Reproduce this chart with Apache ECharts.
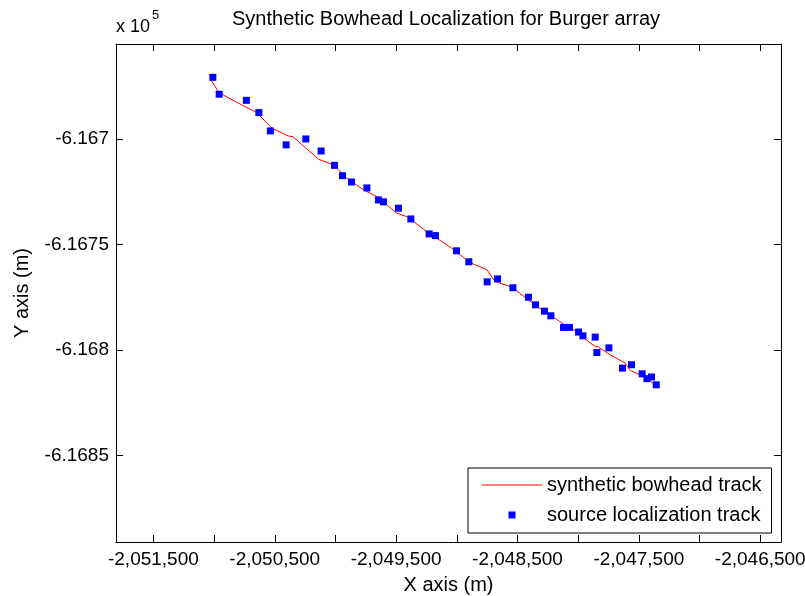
<!DOCTYPE html>
<html><head><meta charset="utf-8">
<script src="https://cdn.jsdelivr.net/npm/echarts@6/dist/echarts.min.js"></script>
<style>html,body{margin:0;padding:0;background:#fff}#c{width:805px;height:596px}</style>
</head><body><div id="c"></div>
<script>
// synthetic bowhead track (m)
const trackX = [-2051025,-2050959,-2050744,-2050648,-2050524,-2050387,-2050351,-2050140,-2050017,-2049906,-2049769,-2049632,-2049576,-2049494,-2049412,-2049247,-2049041,-2048890,-2048752,-2048684,-2048546,-2048340,-2048231,-2048093,-2048025,-2047901,-2047860,-2047833,-2047736,-2047613,-2047571,-2047462,-2047365];
const trackY = [-616672.1,-616678.1,-616684.7,-616687.5,-616694.9,-616698.6,-616698.9,-616709.6,-616712.3,-616718.6,-616724.1,-616728.1,-616731.3,-616735.2,-616736.8,-616743.9,-616751.8,-616758.6,-616762.0,-616767.6,-616770.2,-616779.4,-616783.3,-616788.9,-616790.8,-616796.7,-616798.3,-616798.6,-616802.3,-616806.2,-616809.7,-616812.5,-616816.5];
// source localization track (m)
const locX = [-2051010,-2050958,-2050734,-2050631,-2050536,-2050406,-2050244,-2050118,-2050008,-2049942,-2049868,-2049741,-2049646,-2049605,-2049481,-2049379,-2049228,-2049176,-2049003,-2048901,-2048750,-2048665,-2048538,-2048410,-2048352,-2048278,-2048225,-2048121,-2048072,-2047997,-2047961,-2047860,-2047846,-2047747,-2047635,-2047561,-2047473,-2047434,-2047396,-2047357];
const locY = [-616670.8,-616678.8,-616681.7,-616687.5,-616696.2,-616702.8,-616700.0,-616705.7,-616712.5,-616717.4,-616720.4,-616723.2,-616728.9,-616729.8,-616732.8,-616737.9,-616745.0,-616745.8,-616753.0,-616758.2,-616767.7,-616766.3,-616770.5,-616775.0,-616778.6,-616781.6,-616783.8,-616789.3,-616789.3,-616791.5,-616793.3,-616793.9,-616801.2,-616799.0,-616808.6,-616807.0,-616811.3,-616813.6,-616812.8,-616816.5];
// axes
const xTicks = [-2051500,-2051000,-2050500,-2050000,-2049500,-2049000,-2048500,-2048000,-2047500,-2047000,-2046500];
const xTickLabels = [-2051500,-2050500,-2049500,-2048500,-2047500,-2046500];
const yTicks = [-616850,-616800,-616750,-616700];
const xRange = [-2051808,-2046329];
const yRange = [-616891,-616655];
const titleText = 'Synthetic Bowhead Localization for Burger array';
const seriesNames = ['synthetic bowhead track','source localization track'];

const FONT = 'Liberation Sans, Arial, sans-serif';
function fmtX(v){
  const s = Math.abs(Math.round(v)).toString().replace(/\B(?=(\d{3})+(?!\d))/g, ',');
  return (v < 0 ? '-' : '') + s;
}
function fmtY(v){ return String(+(v/1e5).toFixed(5)); }

const chart = echarts.init(document.getElementById('c'), null, {renderer:'canvas'});
const axisCommonX = {
  type:'value', min:xRange[0], max:xRange[1],
  axisLine:{show:true, onZero:false, lineStyle:{color:'#000', width:1}},
  axisTick:{show:true, inside:true, length:7, customValues:xTicks, lineStyle:{color:'#000'}},
  splitLine:{show:false}
};
const axisCommonY = {
  type:'value', min:yRange[0], max:yRange[1],
  axisLine:{show:true, onZero:false, lineStyle:{color:'#000', width:1}},
  axisTick:{show:true, inside:true, length:7, customValues:yTicks, lineStyle:{color:'#000'}},
  splitLine:{show:false}
};
chart.setOption({
  animation:false,
  backgroundColor:'#fff',
  title:{text:titleText, left:446, top:9, textAlign:'center', padding:0,
    textStyle:{fontFamily:FONT, fontSize:20, fontWeight:'normal', color:'#000'}},
  grid:{left:116, right:24, top:44, bottom:54, containLabel:false, outerBoundsMode:'none'},
  xAxis:[
    Object.assign({}, axisCommonX, {position:'bottom',
      axisLabel:{customValues:xTickLabels, formatter:fmtX, color:'#000', fontSize:19, fontFamily:FONT, margin:8},
      name:'X axis (m)', nameLocation:'middle', nameGap:33,
      nameTextStyle:{color:'#000', fontSize:20, fontFamily:FONT}}),
    Object.assign({}, axisCommonX, {position:'top', axisLabel:{show:false}})
  ],
  yAxis:[
    Object.assign({}, axisCommonY, {position:'left',
      axisLabel:{customValues:yTicks, formatter:fmtY, color:'#000', fontSize:19, fontFamily:FONT, margin:7},
      name:'Y axis (m)', nameLocation:'middle', nameGap:84, nameRotate:90,
      nameTextStyle:{color:'#000', fontSize:20, fontFamily:FONT}}),
    Object.assign({}, axisCommonY, {position:'right', axisLabel:{show:false}})
  ],
  legend:{
    left:468, top:468, orient:'vertical', itemWidth:60, itemHeight:7, itemGap:10,
    padding:[7,10,8,14], borderColor:'#000', borderWidth:1, backgroundColor:'#fff',
    selectedMode:false,
    textStyle:{fontFamily:FONT, fontSize:20, color:'#000', lineHeight:20},
    data:[{name:seriesNames[0], icon:'path://M0,0L60,0L60,1L0,1Z'},
          {name:seriesNames[1], icon:'path://M0,0L10,0L10,10L0,10Z'}]
  },
  graphic:[
    {type:'text', left:116, top:18, style:{text:'x 10', fontFamily:FONT, fontSize:18, fill:'#000'}},
    {type:'text', left:152, top:9, style:{text:'5', fontFamily:FONT, fontSize:13, fill:'#000'}}
  ],
  series:[
    {name:seriesNames[0], type:'line', symbol:'none', showSymbol:false,
     data:trackX.map((x,i)=>[x, trackY[i]]),
     lineStyle:{color:'#ff0000', width:1}, itemStyle:{color:'#ff0000'}, z:2},
    {name:seriesNames[1], type:'scatter', symbol:'rect', symbolSize:7,
     data:locX.map((x,i)=>[x, locY[i]]),
     itemStyle:{color:'#0000ff', opacity:1}, z:3}
  ]
});
</script></body></html>
